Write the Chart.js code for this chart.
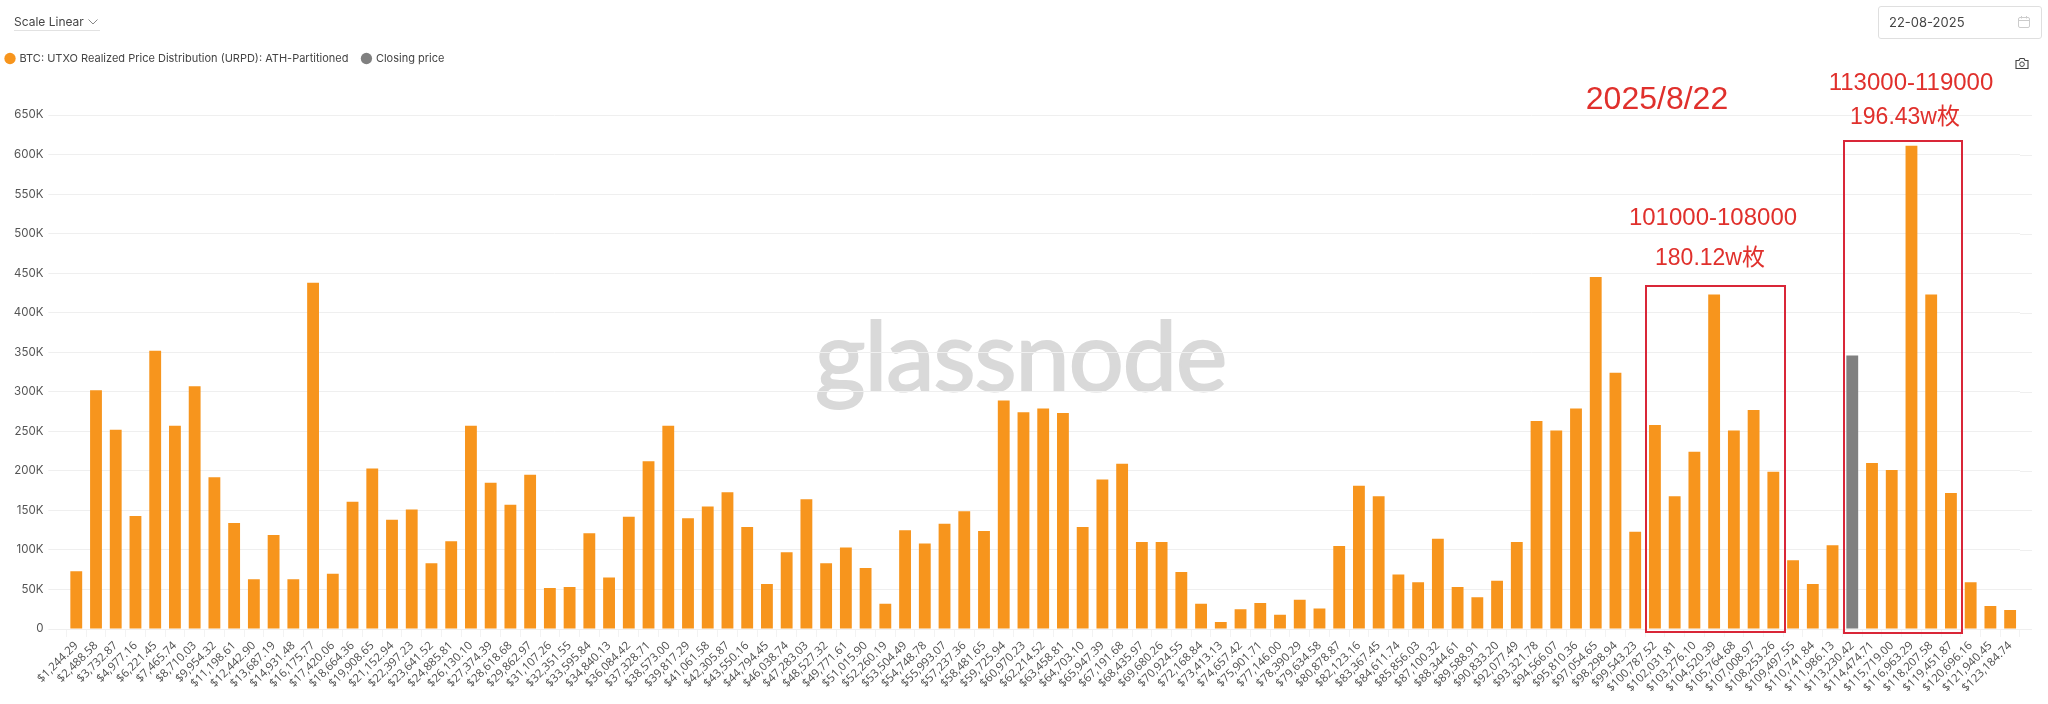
<!DOCTYPE html>
<html><head><meta charset="utf-8">
<script src="https://cdn.jsdelivr.net/npm/chart.js@4"></script>
<style>
html,body{margin:0;padding:0;background:#fff;width:2048px;height:704px;overflow:hidden;font-family:Inter,"Noto Sans",sans-serif}
#wm{position:absolute;left:815px;top:294px;font:400 97px Lato,Inter,sans-serif;-webkit-text-stroke:2px #d9d9d9;color:#d9d9d9;letter-spacing:-1px;line-height:120px;z-index:0;white-space:nowrap}
#wrap{position:absolute;left:0;top:0;width:2048px;height:704px;z-index:1}
.t{position:absolute;white-space:nowrap;z-index:3}
.red{color:#e0302c;font-family:"Liberation Sans","Noto Sans CJK SC",sans-serif;transform:translate(-50%,-50%);font-size:24px}
.box{position:absolute;border:2px solid #d92638;box-sizing:border-box;z-index:3}
</style></head><body>
<div id="wm">glassnode</div>
<div id="wrap"><canvas id="c" width="2048" height="704"></canvas></div>

<div class="t" style="left:14px;top:14px;font-size:12px;line-height:15px;color:#444">Scale Linear</div>
<svg class="t" style="left:87px;top:18px" width="12" height="8" viewBox="0 0 12 8"><path d="M1.5 1.5L6 6l4.500-4.500" fill="none" stroke="#888" stroke-width="1"/></svg>
<div class="t" style="left:14px;top:30px;width:86px;height:1px;background:#e2e2e2"></div>

<div class="t" style="left:1878px;top:6px;width:164px;height:33px;border:1px solid #dfdfdf;border-radius:3px;box-sizing:border-box"></div>
<div class="t" style="left:1889px;top:14px;font-size:13px;line-height:16px;color:#444">22-08-2025</div>
<svg class="t" style="left:2017px;top:15px" width="14" height="14" viewBox="0 0 14 14"><rect x="1.500" y="2.500" width="11" height="10" rx="1.500" fill="none" stroke="#ccc"/><path d="M1.500 5.500h11M4.500 1v2.500M9.500 1v2.500" stroke="#ccc" fill="none"/></svg>
<svg class="t" style="left:2015px;top:57px" width="14" height="13" viewBox="0 0 14 13"><path d="M1 3.500h3l1-2h4l1 2h3v8H1z" fill="none" stroke="#444" stroke-width="1.100"/><circle cx="7" cy="7.200" r="2.300" fill="none" stroke="#444"/></svg>

<div class="box" style="left:1645px;top:285px;width:141px;height:348px"></div>
<div class="box" style="left:1843px;top:140px;width:120px;height:494px"></div>
<div class="t red" style="left:1657px;top:98px;font-size:32px">2025/8/22</div>
<div class="t red" style="left:1911px;top:82px">113000-119000</div>
<div class="t red" style="left:1905px;top:114px;font-size:23px">196.43w枚</div>
<div class="t red" style="left:1713px;top:217px">101000-108000</div>
<div class="t red" style="left:1710px;top:255px;font-size:23px">180.12w枚</div>

<script>
const categories = ["$1,244.29","$2,488.58","$3,732.87","$4,977.16","$6,221.45","$7,465.74","$8,710.03","$9,954.32","$11,198.61","$12,442.90","$13,687.19","$14,931.48","$16,175.77","$17,420.06","$18,664.36","$19,908.65","$21,152.94","$22,397.23","$23,641.52","$24,885.81","$26,130.10","$27,374.39","$28,618.68","$29,862.97","$31,107.26","$32,351.55","$33,595.84","$34,840.13","$36,084.42","$37,328.71","$38,573.00","$39,817.29","$41,061.58","$42,305.87","$43,550.16","$44,794.45","$46,038.74","$47,283.03","$48,527.32","$49,771.61","$51,015.90","$52,260.19","$53,504.49","$54,748.78","$55,993.07","$57,237.36","$58,481.65","$59,725.94","$60,970.23","$62,214.52","$63,458.81","$64,703.10","$65,947.39","$67,191.68","$68,435.97","$69,680.26","$70,924.55","$72,168.84","$73,413.13","$74,657.42","$75,901.71","$77,146.00","$78,390.29","$79,634.58","$80,878.87","$82,123.16","$83,367.45","$84,611.74","$85,856.03","$87,100.32","$88,344.61","$89,588.91","$90,833.20","$92,077.49","$93,321.78","$94,566.07","$95,810.36","$97,054.65","$98,298.94","$99,543.23","$100,787.52","$102,031.81","$103,276.10","$104,520.39","$105,764.68","$107,008.97","$108,253.26","$109,497.55","$110,741.84","$111,986.13","$113,230.42","$114,474.71","$115,719.00","$116,963.29","$118,207.58","$119,451.87","$120,696.16","$121,940.45","$123,184.74"];
const urpdValues = [73000,302000,252000,143000,352000,257000,307000,192000,134000,63000,119000,63000,438000,70000,161000,203000,138000,151000,83000,111000,257000,185000,157000,195000,52000,53000,121000,65000,142000,212000,257000,140000,155000,173000,129000,57000,97000,164000,83000,103000,77000,32000,125000,108000,133000,149000,124000,289000,274000,279000,273000,129000,189000,209000,110000,110000,72000,32000,9000,25000,33000,18000,37000,26000,105000,181000,168000,69000,59000,114000,53000,40000,61000,110000,263000,251000,279000,445000,324000,123000,258000,168000,224000,423000,251000,277000,199000,87000,57000,106000,null,210000,201000,611000,423000,172000,59000,29000,24000];
const closingLabel = "$113,230.42";
const closingValue = 346000;
const closingValues = categories.map(c => c === closingLabel ? closingValue : null);
const seriesNames = ["BTC: UTXO Realized Price Distribution (URPD): ATH-Partitioned","Closing price"];
const yMax = 650000, yStep = 50000;

const legendGap = {id:'legendGap',beforeInit(chart){const f=chart.legend.fit;chart.legend.fit=function(){f.call(this);this.height=76;};}};
const gridRight = {id:'gridRight',beforeDatasetsDraw(chart){const {ctx,scales:{y},chartArea:a}=chart;ctx.save();ctx.strokeStyle='#efefef';ctx.lineWidth=1;
  y.ticks.forEach(t=>{const p=Math.round(y.getPixelForValue(t.value))+.5;ctx.beginPath();ctx.moveTo(a.right,p);ctx.lineTo(2032,p);ctx.stroke();});ctx.restore();}};

Chart.defaults.font.family = 'Inter, "Noto Sans", sans-serif';
new Chart(document.getElementById('c'),{
  type:'bar',
  data:{labels:categories,datasets:[
    {label:seriesNames[0],data:urpdValues,backgroundColor:'#f7951d',borderWidth:0,pointStyle:'circle'},
    {label:seriesNames[1],data:closingValues,backgroundColor:'#808080',borderWidth:0,pointStyle:'circle'}
  ]},
  plugins:[legendGap,gridRight],
  options:{
    responsive:false,animation:false,devicePixelRatio:1,
    layout:{padding:{left:-8,right:28,top:39,bottom:0}},
    datasets:{bar:{grouped:false,barPercentage:0.6,categoryPercentage:1}},
    plugins:{
      tooltip:{enabled:false},
      legend:{position:'top',align:'start',
        labels:{usePointStyle:true,boxWidth:8,boxHeight:8,padding:14,color:'#444',font:{size:11}}}
    },
    scales:{
      x:{
        grid:{drawOnChartArea:false,color:'#f3f3f3',tickLength:8},
        border:{color:'#efefef'},
        afterFit(s){s.height=75;},
        ticks:{autoSkip:false,maxRotation:45,minRotation:45,color:'#4d4d4d',font:{size:11.5,family:'"Open Sans"'},padding:2}
      },
      y:{
        min:0,max:yMax,
        afterFit(s){s.width=74.4;},
        grid:{color:'#efefef',tickLength:18},
        border:{display:false},
        ticks:{stepSize:yStep,padding:5,color:'#555',font:{size:11.5},callback:v=>v===0?'0':(v/1000)+'K'}
      }
    }
  }
});
</script>
</body></html>
